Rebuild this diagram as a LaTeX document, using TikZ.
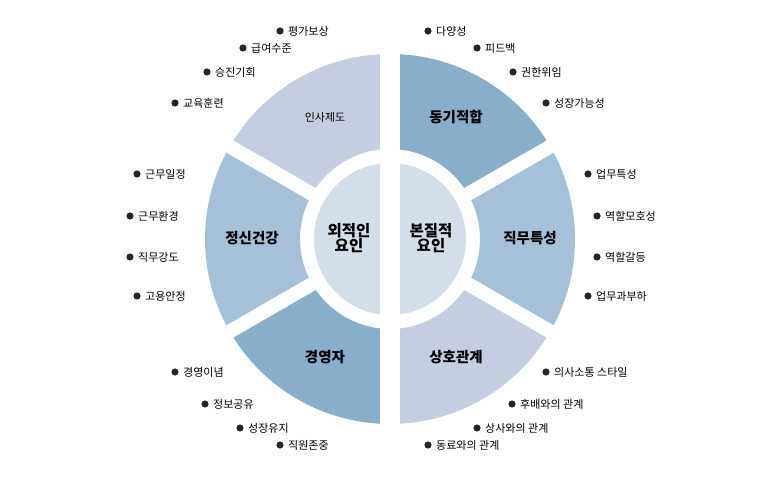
\documentclass[tikz,border=0pt]{standalone}
\usepackage{fontspec}
\usetikzlibrary{calc}
\setmainfont{Noto Sans CJK KR}
\definecolor{cA}{HTML}{C5CEE0}
\definecolor{cB}{HTML}{A5C0D7}
\definecolor{cC}{HTML}{87AFCC}
\definecolor{cD}{HTML}{D3DEE8}
\begin{document}
\begin{tikzpicture}[x=1pt,y=-1pt,
  big/.style={font=\fontsize{14.5}{17}\selectfont\bfseries, align=center},
  inner/.style={font=\fontsize{15.5}{17}\selectfont\bfseries, align=center},
  small/.style={font=\fontsize{11}{13}\selectfont},
  item/.style={font=\fontsize{11}{12}\selectfont, anchor=west, inner sep=0pt}]
\useasboundingbox (0,0) rectangle (780,478);
\coordinate (C) at (390,239);
\foreach \a/\b/\c in {90/150/cC,150/210/cB,210/270/cA,270/330/cC,330/390/cB,30/90/cA}{
  \fill[\c] ($(C)+(\a:185)$) arc[start angle=\a, end angle=\b, radius=185] -- ($(C)+(\b:90)$) arc[start angle=\b, end angle=\a, radius=90] -- cycle;}
\foreach \a in {30,150,210,330}{\draw[white, line width=14pt] (C) -- ++(\a:200);}
\fill[white] (380,40) rectangle (400,440);
\fill[cD] (C) circle[radius=76];
\fill[white] (380,150) rectangle (400,330);
\node[small] (t1) at (325,117) {인사제도};
\node[big] (t2) at (252,238) {정신건강};
\node[big] (t3) at (325,357) {경영자};
\node[big] (t4) at (456,117) {동기적합};
\node[big] (t5) at (530,238) {직무특성};
\node[big] (t6) at (456,357) {상호관계};
\node[inner] (t7) at (349,238) {외적인\\[-2pt]요인};
\node[inner] (t8) at (431,238) {본질적\\[-2pt]요인};
\foreach \x/\y/\t [count=\i] in {280/31/평가보상,243/48/급여수준,207/72/승진기회,175/103/교육훈련,
 137/174/근무일정,130/216/근무환경,130/257/직무강도,137/296/고용안정,
 175/372/경영이념,205/404/정보공유,240/428/성장유지,280/445/직원존중,
 428/31/다양성,477/48/피드백,513/72/권한위임,546/103/성장가능성,
 588/174/업무특성,597/216/역할모호성,597/257/역할갈등,588/296/업무과부하,
 546/372/의사소통 스타일,512/404/후배와의 관계,477/428/상사와의 관계,428/445/동료와의 관계}{
  \fill[black!85] (\x,\y) circle[radius=3.6];
  \node[item] (b\i) at (\x+8,\y) {\t};}
\end{tikzpicture}
\end{document}
